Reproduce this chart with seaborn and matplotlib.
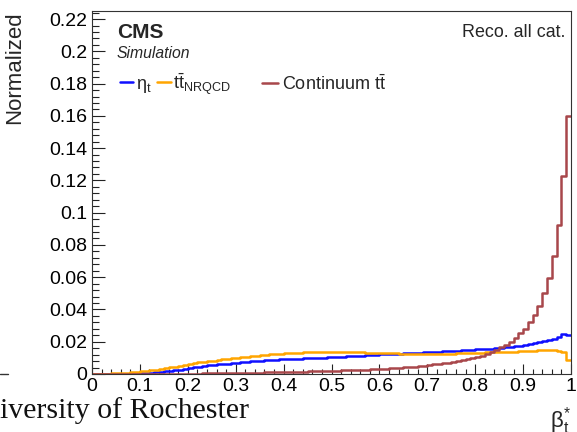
import numpy as np
import pandas as pd
import matplotlib
matplotlib.use("Agg")
import matplotlib.pyplot as plt
from matplotlib.lines import Line2D
from matplotlib.ticker import MultipleLocator, FixedLocator, FixedFormatter
import seaborn as sns

# ---------------- data (100 bins on [0, 1]) ----------------
eta_t = [
    0.0000, 0.0000, 0.0000, 0.0000, 0.0001, 0.0001, 0.0001, 0.0002, 0.0002, 0.0003,
    0.0005, 0.0007, 0.0009, 0.0012, 0.0014, 0.0017, 0.0020, 0.0023, 0.0027, 0.0031,
    0.0038, 0.0042, 0.0046, 0.0050, 0.0053, 0.0057, 0.0060, 0.0062, 0.0065, 0.0068,
    0.0071, 0.0074, 0.0076, 0.0079, 0.0081, 0.0083, 0.0086, 0.0087, 0.0089, 0.0091,
    0.0092, 0.0094, 0.0095, 0.0096, 0.0098, 0.0099, 0.0100, 0.0101, 0.0102, 0.0103,
    0.0105, 0.0106, 0.0108, 0.0109, 0.0110, 0.0112, 0.0114, 0.0116, 0.0117, 0.0119,
    0.0121, 0.0122, 0.0124, 0.0125, 0.0126, 0.0128, 0.0129, 0.0131, 0.0133, 0.0134,
    0.0136, 0.0137, 0.0138, 0.0140, 0.0141, 0.0143, 0.0145, 0.0147, 0.0148, 0.0150,
    0.0152, 0.0154, 0.0156, 0.0158, 0.0160, 0.0163, 0.0166, 0.0169, 0.0172, 0.0176,
    0.0181, 0.0186, 0.0191, 0.0197, 0.0203, 0.0210, 0.0218, 0.0229, 0.0246, 0.0240,
]
tt_nrqcd = [
    0.0002, 0.0002, 0.0003, 0.0003, 0.0004, 0.0005, 0.0006, 0.0008, 0.0010, 0.0013,
    0.0016, 0.0019, 0.0023, 0.0027, 0.0031, 0.0036, 0.0041, 0.0046, 0.0051, 0.0058,
    0.0064, 0.0068, 0.0072, 0.0075, 0.0079, 0.0082, 0.0086, 0.0090, 0.0094, 0.0098,
    0.0101, 0.0104, 0.0107, 0.0110, 0.0113, 0.0116, 0.0119, 0.0121, 0.0124, 0.0126,
    0.0128, 0.0130, 0.0131, 0.0133, 0.0134, 0.0135, 0.0136, 0.0137, 0.0137, 0.0138,
    0.0138, 0.0139, 0.0138, 0.0137, 0.0136, 0.0135, 0.0134, 0.0133, 0.0132, 0.0131,
    0.0130, 0.0130, 0.0129, 0.0128, 0.0127, 0.0127, 0.0126, 0.0125, 0.0124, 0.0124,
    0.0123, 0.0123, 0.0124, 0.0125, 0.0126, 0.0127, 0.0128, 0.0129, 0.0130, 0.0131,
    0.0132, 0.0133, 0.0134, 0.0134, 0.0135, 0.0136, 0.0137, 0.0138, 0.0139, 0.0141,
    0.0142, 0.0143, 0.0144, 0.0146, 0.0148, 0.0149, 0.0147, 0.0143, 0.0134, 0.0089,
]
continuum = [
    0.0001, 0.0001, 0.0001, 0.0001, 0.0001, 0.0001, 0.0001, 0.0001, 0.0001, 0.0001,
    0.0002, 0.0002, 0.0002, 0.0002, 0.0002, 0.0002, 0.0002, 0.0002, 0.0002, 0.0002,
    0.0003, 0.0003, 0.0003, 0.0004, 0.0004, 0.0004, 0.0005, 0.0005, 0.0005, 0.0006,
    0.0006, 0.0007, 0.0007, 0.0008, 0.0008, 0.0009, 0.0010, 0.0010, 0.0011, 0.0012,
    0.0013, 0.0013, 0.0014, 0.0015, 0.0015, 0.0016, 0.0017, 0.0018, 0.0018, 0.0019,
    0.0020, 0.0021, 0.0022, 0.0023, 0.0024, 0.0025, 0.0026, 0.0027, 0.0028, 0.0030,
    0.0031, 0.0033, 0.0035, 0.0037, 0.0039, 0.0041, 0.0043, 0.0046, 0.0049, 0.0052,
    0.0056, 0.0060, 0.0064, 0.0067, 0.0071, 0.0075, 0.0080, 0.0085, 0.0091, 0.0097,
    0.0104, 0.0113, 0.0123, 0.0134, 0.0147, 0.0165, 0.0182, 0.0200, 0.0223, 0.0254,
    0.0280, 0.0320, 0.0365, 0.0420, 0.0500, 0.0594, 0.0730, 0.0923, 0.1226, 0.1598,
]
series_labels = [r"η$_{\mathrm{t}}$", r"$\mathrm{t\bar{t}}_{\mathrm{NRQCD}}$", r"Continuum $\mathrm{t\bar{t}}$"]
series_colors = ["#0f0fff", "#ffa500", "#a8474b"]
x_ticks = [0, 0.1, 0.2, 0.3, 0.4, 0.5, 0.6, 0.7, 0.8, 0.9, 1]
x_ticklabels = ["0", "0.1", "0.2", "0.3", "0.4", "0.5", "0.6", "0.7", "0.8", "0.9", "1"]
y_ticks = [0, 0.02, 0.04, 0.06, 0.08, 0.1, 0.12, 0.14, 0.16, 0.18, 0.2, 0.22]
y_ticklabels = ["0", "0.02", "0.04", "0.06", "0.08", "0.1", "0.12", "0.14", "0.16", "0.18", "0.2", "0.22"]

# ---------------- styling ----------------
sns.set_style("white")
plt.rcParams["font.family"] = ["Liberation Sans", "DejaVu Sans"]
plt.rcParams["mathtext.fontset"] = "custom"
plt.rcParams["mathtext.rm"] = "Liberation Sans"
plt.rcParams["mathtext.it"] = "Liberation Sans:italic"
plt.rcParams["mathtext.bf"] = "Liberation Sans:bold"

fig = plt.figure(figsize=(5.77, 4.32), dpi=100)
ax = fig.add_axes([92 / 577, 1 - 374 / 432, 479 / 577, 363 / 432])

nbins = len(eta_t)
centers = (np.arange(nbins) + 0.5) / nbins
df = pd.DataFrame({
    "beta": np.concatenate([centers] * 3),
    "w": np.concatenate([eta_t, tt_nrqcd, continuum]),
    "sample": np.repeat(["eta", "nrqcd", "cont"], nbins),
})
for key, col in zip(["eta", "nrqcd", "cont"], series_colors):
    sub = df[df["sample"] == key]
    sns.histplot(data=sub, x="beta", weights="w", binwidth=1.0 / nbins, binrange=(0, 1),
                 element="step", fill=False, color=col, linewidth=1.8, ax=ax)

ax.set_xlim(0, 1)
ax.set_ylim(0, 0.225)
ax.xaxis.set_major_locator(FixedLocator(x_ticks))
ax.xaxis.set_major_formatter(FixedFormatter(x_ticklabels))
ax.yaxis.set_major_locator(FixedLocator(y_ticks))
ax.yaxis.set_major_formatter(FixedFormatter(y_ticklabels))
ax.xaxis.set_minor_locator(MultipleLocator(0.02))
ax.yaxis.set_minor_locator(MultipleLocator(0.004))
ax.tick_params(axis="both", which="both", direction="in", top=False, right=False,
               left=True, bottom=True, colors="#222222", labelcolor="black", labelsize=14)
ax.tick_params(axis="y", which="major", length=9.5, width=0.8, pad=3.5)
ax.tick_params(axis="y", which="minor", length=4.7, width=0.8)
ax.tick_params(axis="x", which="major", length=7.2, width=0.8, pad=3)
ax.tick_params(axis="x", which="minor", length=3.6, width=0.8)
for s in ax.spines.values():
    s.set_color("#333333")
    s.set_linewidth(0.8)

ax.set_ylabel("Normalized", fontsize=16, loc="top")
ax.yaxis.set_label_coords(-0.140, 1.0)
ax.set_xlabel(r"β$^{*}_{\mathrm{t}}$", fontsize=16, loc="right")
ax.xaxis.set_label_coords(1.0, -0.085)

ax.text(0.052, 0.968, "CMS", transform=ax.transAxes, fontsize=15, fontweight="bold",
        ha="left", va="top")
ax.text(0.052, 0.903, "Simulation", transform=ax.transAxes, fontsize=11.3, style="italic",
        ha="left", va="top")
ax.text(0.9875, 0.963, "Reco. all cat.", transform=ax.transAxes, fontsize=12.9,
        ha="right", va="top")

h = [Line2D([], [], color=c, lw=1.8) for c in series_colors]
leg1 = ax.legend(h[:2], series_labels[:2], loc="center left", bbox_to_anchor=(0.058, 0.799),
                 ncol=2, frameon=False, fontsize=13, handlelength=0.75, handletextpad=0.15,
                 columnspacing=0.3, borderpad=0, borderaxespad=0)
ax.add_artist(leg1)
ax.legend(h[2:], series_labels[2:], loc="center left", bbox_to_anchor=(0.355, 0.799),
          frameon=False, fontsize=13, handlelength=0.9, handletextpad=0.2,
          borderpad=0, borderaxespad=0)

fig.text(0.0, 1 - 418 / 432, "iversity of Rochester", fontsize=21.5,
         family=["Liberation Serif", "DejaVu Serif"], color="#111111", ha="left", va="baseline")
fig.add_artist(Line2D([0, 8 / 577], [1 - 374 / 432, 1 - 374 / 432], color="#333333", lw=1))

fig.savefig("out.png", dpi=100)
